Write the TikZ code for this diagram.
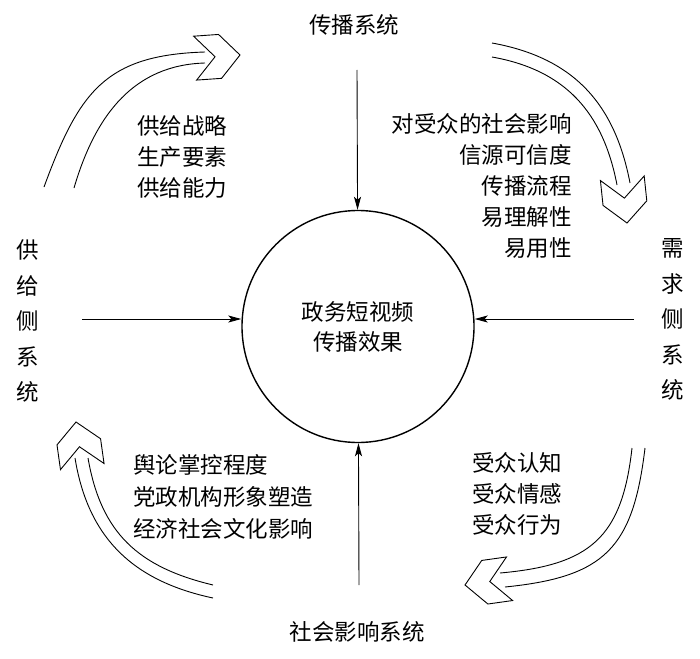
\documentclass[tikz,border=0pt]{standalone}
\usepackage{fontspec}
\setmainfont{Noto Sans CJK SC}
\usepackage{tikz}
\usetikzlibrary{arrows.meta,positioning,calc}
\tikzset{
  texto/.style={inner sep=0pt, align=left,
                font=\fontsize{22.5}{31}\selectfont},
  vertical/.style={inner sep=0pt, align=center,
                   font=\fontsize{22.5}{35.5}\selectfont},
  circulo/.style={circle, draw=black, line width=1.4pt, minimum size=232pt,
                  inner sep=0pt, align=center,
                  font=\fontsize{22.5}{30}\selectfont},
  flecha/.style={-{Stealth[length=13pt, width=7pt, inset=3pt]}, line width=0.9pt},
  banda/.style={line width=0.9pt},
  punta/.pic={\draw[banda, line join=miter]
                (0,0) -- (-20,22) -- (-45,22) -- (-25,0) -- (-45,-22) -- (-20,-22) -- cycle;}
}

\begin{document}
\begin{tikzpicture}[x=1pt, y=-1pt]
  \useasboundingbox (0,0) rectangle (700,658);

  % Centro
  \node[circulo] (efecto) at (358,326.5) {政务短视频\\传播效果};

  % Sistemas
  \node[texto] (difusion) at (354,25) {传播系统};
  \node[texto] (social) at (357,632) {社会影响系统};
  \node[vertical] (oferta) at (28,321) {供\\给\\侧\\系\\统};
  \node[vertical] (demanda) at (673,319.6) {需\\求\\侧\\系\\统};

  % Factores
  \node[texto, anchor=west] (estrategia) at (137,157) {供给战略\\生产要素\\供给能力};
  \node[texto, anchor=east, align=right] (influencia) at (572,185.5)
        {对受众的社会影响\\信源可信度\\传播流程\\易理解性\\易用性};
  \node[texto, anchor=west, font=\fontsize{22.5}{32}\selectfont] (opinion) at (133,497)
        {舆论掌控程度\\党政机构形象塑造\\经济社会文化影响};
  \node[texto, anchor=west] (audiencia) at (472,493.5) {受众认知\\受众情感\\受众行为};

  % Flechas rectas
  \coordinate (pdif) at (357,70);
  \coordinate (psoc) at (359,585);
  \coordinate (pofe) at (82,319);
  \coordinate (pdem) at (634,319);
  \draw[flecha] (pdif) -- (efecto);
  \draw[flecha] (psoc) -- (efecto);
  \draw[flecha] (pofe) -- (pofe -| efecto.west);
  \draw[flecha] (pdem) -- (pdem -| efecto.east);

  % Flechas curvas
  \draw[banda] (44,187) .. controls (79,92) and (105,55) .. (205,52);
  \draw[banda] (74,188) .. controls (96,113) and (135,65) .. (205,63);
  \pic[rotate=4] at (240,55) {punta};

  \draw[banda] (492,43) .. controls (575,58) and (615,105) .. (630,183);
  \draw[banda] (492,57) .. controls (565,70) and (603,112) .. (617,185);
  \pic[rotate=-84] at (627,223) {punta};

  \draw[banda] (645,448) .. controls (633,548) and (605,577) .. (505,587);
  \draw[banda] (632,448) .. controls (622,538) and (590,565) .. (500,573);
  \pic[rotate=188] at (465,585) {punta};

  \draw[banda] (213,598) .. controls (133,581) and (88,538) .. (75,458);
  \draw[banda] (213,585) .. controls (138,567) and (101,533) .. (88,458);
  \pic[rotate=98] at (76,422) {punta};
\end{tikzpicture}
\end{document}
